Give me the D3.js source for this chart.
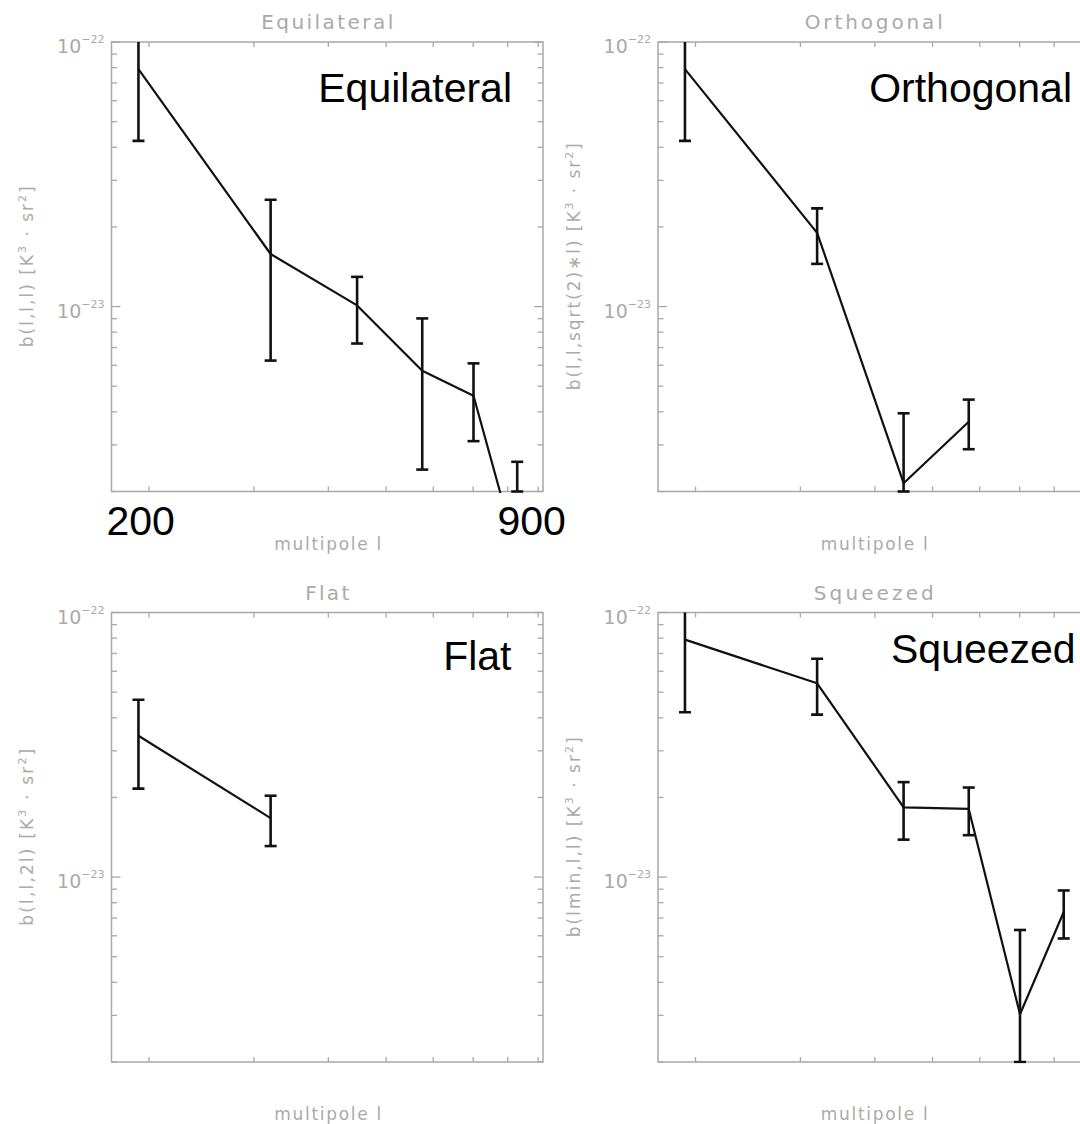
<!DOCTYPE html>
<html>
<head>
<meta charset="utf-8">
<script src="https://cdn.jsdelivr.net/npm/d3@7"></script>
<style>
  body { margin: 0; background: #fff; }
  svg { display: block; }
</style>
</head>
<body>
<div id="chart"></div>
<script>
// bin centres in multipole l, shared by all four shapes
const multipoles = [192, 320, 447, 575, 701, 830];

const equilateralValues = [7.9e-23, 1.58e-23, 1.01e-23, 5.72e-24, 4.6e-24, 1.16e-24];
const equilateralErrors = [3.67e-23, 9.55e-24, 2.85e-24, 3.3e-24, 1.5e-24, 1.43e-24];

const orthogonalValues = [7.9e-23, 1.9e-23, 2.15e-24, 3.67e-24];
const orthogonalErrors = [3.67e-23, 4.5e-24, 1.8e-24, 7.8e-25];

const flatValues = [3.42e-23, 1.67e-23];
const flatErrors = [1.26e-23, 3.6e-24];

const squeezedValues = [7.9e-23, 5.4e-23, 1.835e-23, 1.81e-23, 3.03e-24, 7.38e-24];
const squeezedErrors = [3.7e-23, 1.29e-23, 4.5e-24, 3.7e-24, 3.28e-24, 1.52e-24];

const shapeNames = ["Equilateral", "Orthogonal", "Flat", "Squeezed"];
const yTitles = ["b(l,l,l)", "b(l,l,sqrt(2)\u2217l)", "b(l,l,2l)", "b(lmin,l,l)"];
const xTitle = "multipole l";
const yMajorTicks = [1e-22, 1e-23];
const yMajorExponents = ["\u221222", "\u221223"];
const rangeLabels = ["200", "900"];

const xDomain = [173, 917];
const yDomain = [2e-24, 1e-22];

const grey = "#a8a8a8";
const greyText = "#aaaaaa";
const thinFont = "'DejaVu Sans', sans-serif";

const plotW = 431.5, plotH = 449.5;

const panels = [
    { name: shapeNames[0], yTitle: yTitles[0], values: equilateralValues, errors: equilateralErrors,
      left: 111.5, top: 42, titleLen: 132, yTitleLen: 161,
      label: { x: 400.5, y: 60, anchor: "end" } },
    { name: shapeNames[1], yTitle: yTitles[1], values: orthogonalValues, errors: orthogonalErrors,
      left: 658, top: 42, titleLen: 138, yTitleLen: 247,
      label: { x: 414, y: 60, anchor: "end" } },
    { name: shapeNames[2], yTitle: yTitles[2], values: flatValues, errors: flatErrors,
      left: 111.5, top: 612.5, titleLen: 44, yTitleLen: 177,
      label: { x: 400, y: 57.5, anchor: "end" } },
    { name: shapeNames[3], yTitle: yTitles[3], values: squeezedValues, errors: squeezedErrors,
      left: 658, top: 612.5, titleLen: 120, yTitleLen: 200,
      label: { x: 233, y: 50, anchor: "start" } }
];

const svg = d3.select("#chart")
    .append("svg")
    .attr("width", 1080)
    .attr("height", 1124)
    .style("background", "#fff");

panels.forEach((p, i) => drawPanel(svg, p, i));

// the two hand-placed range labels under the first panel
svg.append("text")
    .attr("x", 106.5).attr("y", 535)
    .attr("font-family", "'Liberation Sans', Arial, sans-serif")
    .attr("font-size", 41)
    .text(rangeLabels[0]);
svg.append("text")
    .attr("x", 497.5).attr("y", 535)
    .attr("font-family", "'Liberation Sans', Arial, sans-serif")
    .attr("font-size", 41)
    .text(rangeLabels[1]);

function drawPanel(svg, p, idx) {
    const g = svg.append("g").attr("transform", `translate(${p.left},${p.top})`);

    const x = d3.scaleLog().domain(xDomain).range([0, plotW]);
    const y = d3.scaleLog().domain(yDomain).range([plotH, 0]);

    // frame
    g.append("rect")
        .attr("width", plotW).attr("height", plotH)
        .attr("fill", "none")
        .attr("stroke", grey)
        .attr("stroke-width", 1.5);

    // x ticks, bottom and top, pointing inwards
    const xt = x.ticks();
    g.selectAll(".xtb").data(xt).enter().append("line")
        .attr("x1", d => x(d)).attr("x2", d => x(d))
        .attr("y1", plotH).attr("y2", plotH - 5)
        .attr("stroke", grey).attr("stroke-width", 1.3);
    g.selectAll(".xtt").data(xt).enter().append("line")
        .attr("x1", d => x(d)).attr("x2", d => x(d))
        .attr("y1", 0).attr("y2", 5)
        .attr("stroke", grey).attr("stroke-width", 1.3);

    // y ticks on both sides
    const yt = y.ticks();
    const isMajor = d => yMajorTicks.some(m => Math.abs(m - d) / m < 1e-6);
    g.selectAll(".ytl").data(yt).enter().append("line")
        .attr("x1", 0).attr("x2", d => isMajor(d) ? 9 : 5.5)
        .attr("y1", d => y(d)).attr("y2", d => y(d))
        .attr("stroke", grey).attr("stroke-width", 1.3);
    g.selectAll(".ytr").data(yt).enter().append("line")
        .attr("x1", plotW).attr("x2", d => plotW - (isMajor(d) ? 9 : 5.5))
        .attr("y1", d => y(d)).attr("y2", d => y(d))
        .attr("stroke", grey).attr("stroke-width", 1.3);

    // y tick labels: 10^-22, 10^-23
    yMajorTicks.forEach((m, k) => {
        const t = g.append("text")
            .attr("x", -7).attr("y", y(m) + 11)
            .attr("text-anchor", "end")
            .attr("font-family", thinFont)
            .attr("fill", greyText);
        t.append("tspan").attr("font-size", 19).text("10");
        t.append("tspan").attr("font-size", 11).attr("dy", -10).text(yMajorExponents[k]);
    });

    // panel title
    g.append("text")
        .attr("x", plotW / 2).attr("y", -13)
        .attr("text-anchor", "middle")
        .attr("font-family", thinFont)
        .attr("font-size", 20)
        .attr("fill", greyText)
        .attr("textLength", p.titleLen)
        .attr("lengthAdjust", "spacing")
        .text(p.name);

    // x title
    g.append("text")
        .attr("x", plotW / 2 + 0.5).attr("y", plotH + 58)
        .attr("text-anchor", "middle")
        .attr("font-family", thinFont)
        .attr("font-size", 17)
        .attr("fill", greyText)
        .attr("textLength", 107)
        .attr("lengthAdjust", "spacing")
        .text(xTitle);

    // y title, rotated
    const yl = g.append("text")
        .attr("transform", `translate(${-84},${plotH / 2}) rotate(-90)`)
        .attr("text-anchor", "middle")
        .attr("dy", "0.35em")
        .attr("font-family", thinFont)
        .attr("font-size", 17)
        .attr("fill", greyText)
        .attr("textLength", p.yTitleLen)
        .attr("lengthAdjust", "spacing");
    yl.append("tspan").text(p.yTitle + " [K");
    yl.append("tspan").attr("font-size", 11).attr("dy", -7).text("3");
    yl.append("tspan").attr("dy", 7).text(" \u00b7 sr");
    yl.append("tspan").attr("font-size", 11).attr("dy", -7).text("2");
    yl.append("tspan").attr("dy", 7).text("]");

    // data, clipped to the plot box
    const clipId = "clip" + idx;
    g.append("clipPath").attr("id", clipId)
        .append("rect")
        .attr("x", 0).attr("y", 0)
        .attr("width", plotW).attr("height", plotH + 1.5);

    const data = p.values.map((v, k) => ({
        l: multipoles[k],
        v: v,
        hi: v + p.errors[k],
        lo: Math.max(v - p.errors[k], yDomain[0])
    }));

    const dg = g.append("g").attr("clip-path", `url(#${clipId})`);

    const line = d3.line()
        .x(d => x(d.l))
        .y(d => y(d.v));

    dg.append("path")
        .datum(data)
        .attr("fill", "none")
        .attr("stroke", "#111")
        .attr("stroke-width", 2.2)
        .attr("stroke-linejoin", "round")
        .attr("d", line);

    const bars = dg.selectAll(".err").data(data).enter().append("g");
    bars.append("line")
        .attr("x1", d => x(d.l)).attr("x2", d => x(d.l))
        .attr("y1", d => y(d.hi)).attr("y2", d => y(d.lo))
        .attr("stroke", "#111").attr("stroke-width", 2.6);
    bars.append("line")
        .attr("x1", d => x(d.l) - 6).attr("x2", d => x(d.l) + 6)
        .attr("y1", d => y(d.hi)).attr("y2", d => y(d.hi))
        .attr("stroke", "#111").attr("stroke-width", 2.6);
    bars.append("line")
        .attr("x1", d => x(d.l) - 6).attr("x2", d => x(d.l) + 6)
        .attr("y1", d => y(d.lo)).attr("y2", d => y(d.lo))
        .attr("stroke", "#111").attr("stroke-width", 2.6);

    // big black shape label inside the panel
    g.append("text")
        .attr("x", p.label.x).attr("y", p.label.y)
        .attr("text-anchor", p.label.anchor)
        .attr("font-family", "'Liberation Sans', Arial, sans-serif")
        .attr("font-size", 41)
        .attr("fill", "#000")
        .text(p.name);
}
</script>
</body>
</html>
